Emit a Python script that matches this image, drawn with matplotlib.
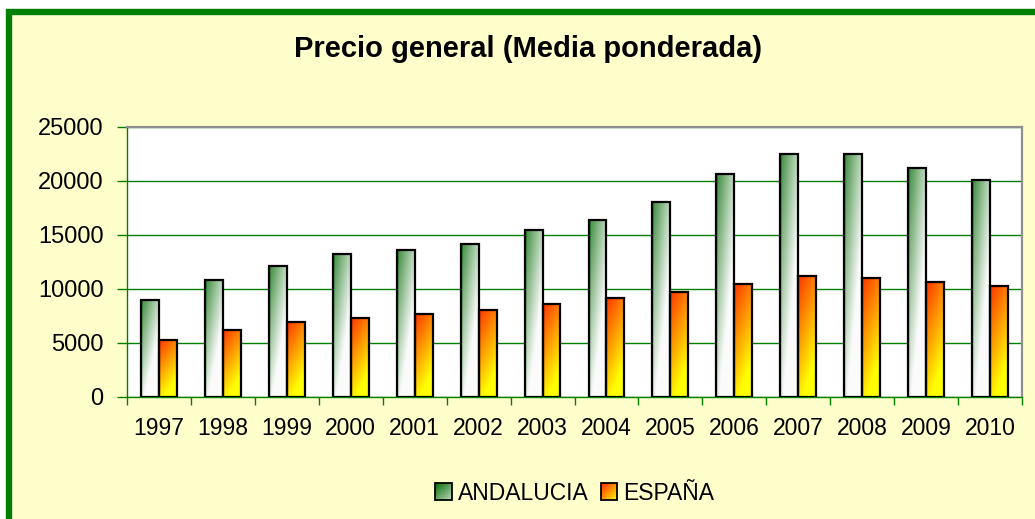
import numpy as np
import matplotlib
matplotlib.use('Agg')
import matplotlib.pyplot as plt
from matplotlib.patches import Rectangle
from matplotlib.legend_handler import HandlerBase

# ---- data ----
years = ['1997', '1998', '1999', '2000', '2001', '2002', '2003',
         '2004', '2005', '2006', '2007', '2008', '2009', '2010']
andalucia = [8950, 10800, 12100, 13200, 13550, 14100, 15400,
             16300, 18000, 20600, 22500, 22500, 21150, 20050]
espana = [5250, 6200, 6900, 7250, 7650, 8000, 8550,
          9100, 9700, 10400, 11150, 10950, 10600, 10250]
series_names = ['ANDALUCIA', 'ESPAÑA']
title = 'Precio general (Media ponderada)'
yticks = [0, 5000, 10000, 15000, 20000, 25000]

plt.rcParams['font.family'] = ['Liberation Sans', 'DejaVu Sans']

W, H = 1035, 519
fig = plt.figure(figsize=(W / 100, H / 100), dpi=100, facecolor='white')

# yellow panel with green frame (extends beyond right/bottom edges)
fig.add_artist(Rectangle((8.5 / W, -0.5), 2, (1 - 12.5 / H) + 0.5,
                         transform=fig.transFigure, facecolor='#FFFFCC',
                         edgecolor='#008000', lw=4.6, zorder=0))


def grad_green(n=120, m=24):
    ys = np.linspace(0, 1, n)[:, None]
    xs = np.linspace(0, 1, m)[None, :]
    t = np.clip(0.2 + 0.7 * ys + 0.55 * xs, 0, 1)
    t[:, :2] = np.clip(t[:, :2] - 0.2, 0, 1)
    top = np.array([10, 110, 10]) / 255
    bot = np.array([250, 251, 250]) / 255
    return top[None, None, :] * (1 - t[..., None]) + bot[None, None, :] * t[..., None]


def grad_orange(n=120, m=24):
    ys = np.linspace(0, 1, n)[:, None]
    xs = np.linspace(0, 1, m)[None, :]
    t = np.clip(0.05 + 0.85 * ys + 0.35 * xs, 0, 1)
    img = np.zeros((n, m, 3))
    img[..., 0] = 1.0
    img[..., 1] = (40 + 215 * t) / 255
    img[..., 2] = 0.0
    return img


grads = [grad_green(), grad_orange()]

ax = fig.add_axes([127 / W, 1 - 396.5 / H, 895 / W, 270 / H])
ax.set_facecolor('white')
ax.set_zorder(1)

x = np.arange(len(years))
w = 0.28
for k, (vals, off) in enumerate([(andalucia, -w / 2), (espana, w / 2)]):
    bars = ax.bar(x + off, vals, width=w, facecolor='none', edgecolor='black',
                  lw=1.6, zorder=3)
    for b in bars:
        x0, bw, bh = b.get_x(), b.get_width(), b.get_height()
        im = ax.imshow(grads[k], extent=[x0, x0 + bw, 0, bh], aspect='auto',
                       origin='upper', zorder=2.5, interpolation='bilinear')
        im.set_clip_path(b)

ax.set_xlim(-0.5, len(years) - 0.5)
ax.set_ylim(0, 25000)
ax.set_yticks(yticks)
ax.set_yticklabels([str(v) for v in yticks])
ax.set_xticks(x)
ax.set_xticklabels(years)
ax.set_xticks(np.arange(-0.5, len(years)), minor=True)
ax.tick_params(axis='x', which='major', length=0, labelsize=16.5, pad=15)
ax.tick_params(axis='x', which='minor', length=6, color='#008000', width=1)
ax.tick_params(axis='y', length=7, color='#008000', width=1, labelsize=17, pad=10)
ax.yaxis.grid(True, color='#008000', lw=1)
ax.set_axisbelow(True)
for s in ['left', 'bottom']:
    ax.spines[s].set_color('#008000')
    ax.spines[s].set_linewidth(1)
for s in ['top', 'right']:
    ax.spines[s].set_color('#909090')
    ax.spines[s].set_linewidth(1.6)

fig.text(528 / W, 1 - 49 / H, title, ha='center', va='center',
         fontsize=21, weight='bold')


class GradHandler(HandlerBase):
    def __init__(self, img):
        super().__init__()
        self.img = img

    def create_artists(self, legend, orig_handle, xdescent, ydescent,
                       width, height, fontsize, trans):
        arts = []
        n = 8
        side = min(width, height)
        x0 = -xdescent
        y0 = -ydescent + (height - side) / 2
        cell = side / n
        for i in range(n):
            for j in range(n):
                t = np.clip((i + j) / (2 * n - 2), 0, 1)
                r = int(t * (self.img.shape[0] - 1))
                c = self.img[r, 0]
                arts.append(Rectangle((x0 + j * cell, y0 + side - (i + 1) * cell),
                                      cell * 1.02, cell * 1.02, facecolor=c,
                                      edgecolor='none', transform=trans))
        arts.append(Rectangle((x0, y0), side, side, facecolor='none',
                              edgecolor='black', lw=1.3, transform=trans))
        return arts


h1 = Rectangle((0, 0), 1, 1)
h2 = Rectangle((0, 0), 1, 1)
fig.legend([h1, h2], series_names, loc='center',
           bbox_to_anchor=(575 / W, 1 - 493 / H), ncol=2, frameon=False,
           fontsize=16.5, handlelength=0.7, handleheight=0.7,
           handletextpad=0.3, columnspacing=0.5,
           handler_map={h1: GradHandler(grads[0]), h2: GradHandler(grads[1])})

fig.savefig('out.png', dpi=100, facecolor=fig.get_facecolor())
